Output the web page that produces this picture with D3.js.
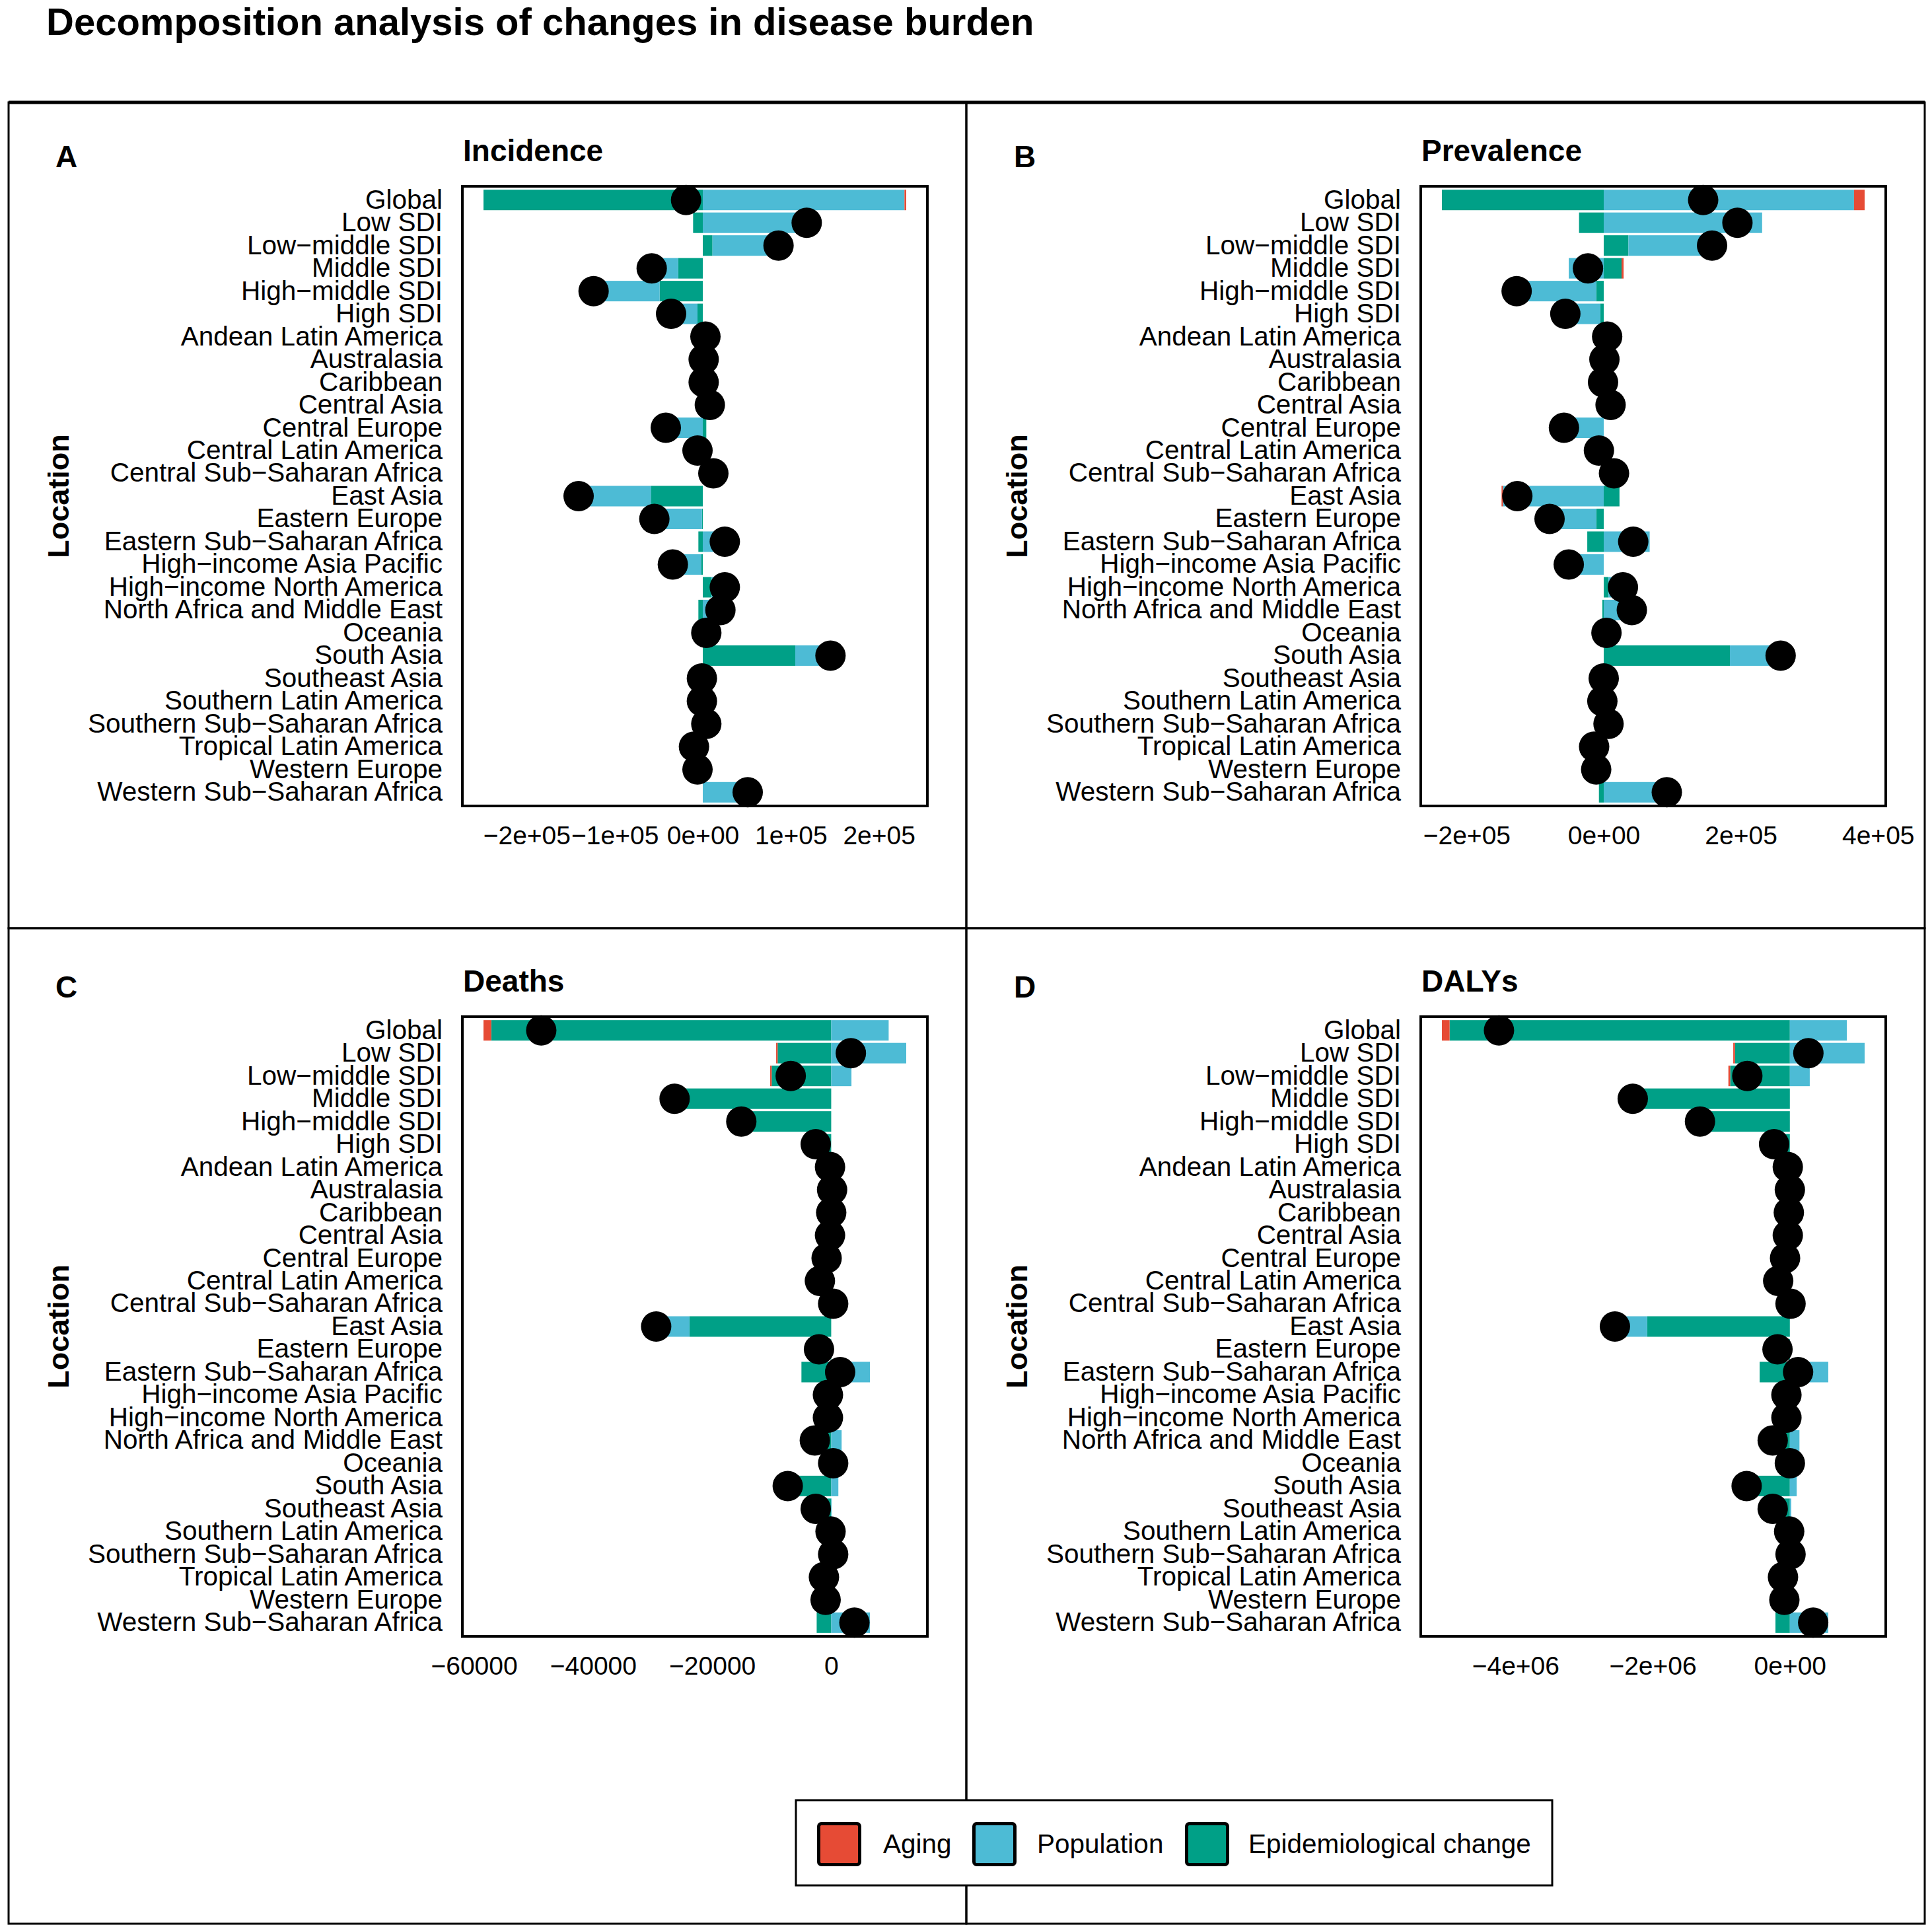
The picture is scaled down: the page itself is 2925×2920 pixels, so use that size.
<!DOCTYPE html>
<html>
<head>
<meta charset="utf-8">
<script src="https://cdn.jsdelivr.net/npm/d3@7"></script>
<style>
  body { margin: 0; background: #fff; }
  svg { display: block; }
  text { font-family: "Liberation Sans", Arial, sans-serif; fill: #000; }
</style>
</head>
<body>
<svg id="chart" width="2925" height="2920"></svg>
<script>
// ---- data ----
const locations = [
    "Global", "Low SDI", "Low−middle SDI", "Middle SDI", "High−middle SDI", "High SDI",
    "Andean Latin America", "Australasia", "Caribbean", "Central Asia", "Central Europe",
    "Central Latin America", "Central Sub−Saharan Africa", "East Asia", "Eastern Europe",
    "Eastern Sub−Saharan Africa", "High−income Asia Pacific", "High−income North America",
    "North Africa and Middle East", "Oceania", "South Asia", "Southeast Asia",
    "Southern Latin America", "Southern Sub−Saharan Africa", "Tropical Latin America",
    "Western Europe", "Western Sub−Saharan Africa"
];
const components = ["Aging", "Population", "Epidemiological change"];

// Incidence
const incidenceEpi = [-249000, -11000, 11000, -28000, -49000, -6000, 0, 0, 0, 2000, 4000, -3000, 3000,
    -59000, -1000, -5000, -2000, 10000, -5000, 0, 105000, -2000, 0, 0, -5000, -2000, 0];
const incidencePop = [229000, 129000, 75000, -30000, -75000, -30000, 3000, 1000, 1000, 6000, -46000, -3000, 9000,
    -82000, -54000, 30000, -32000, 15000, 25000, 4000, 40000, 1000, -1000, 4000, -5000, -4000, 51000];
const incidenceAging = [2000, 0, 0, 0, 0, 0, 0, 0, 0, 0, 0, 0, 0,
    0, 0, 0, 0, 0, 0, 0, 0, 0, 0, 0, 0, 0, 0];
const incidenceTotal = [-19000, 118000, 86000, -58000, -124000, -36000, 3000, 1000, 1000, 8000, -42000, -6000, 12000,
    -141000, -55000, 25000, -34000, 25000, 20000, 4000, 145000, -1000, -1000, 4000, -10000, -6000, 51000];
const incidenceTicks = [-200000, -100000, 0, 100000, 200000];

// Prevalence
const prevalenceEpi = [-236000, -36000, 36000, 26000, -11000, -5000, 1000, 0, 0, 3000, 0, -4000, 4000,
    23000, -11000, -24000, 0, 7000, -2000, 0, 184000, -2000, 0, 1000, -7000, -4000, -7000];
const prevalencePop = [365000, 231000, 122000, -51000, -116000, -51000, 4000, 1000, -1000, 7000, -58000, -3000, 11000,
    -147000, -68000, 67000, -51000, 21000, 43000, 4000, 74000, 2000, -2000, 6000, -7000, -7000, 99000];
const prevalenceAging = [15500, 0, 0, 3000, 0, 0, 0, 0, 0, 0, 0, 0, 0,
    -2000, 0, 0, 0, 0, 0, 0, 0, 0, 0, 0, 0, 0, 0];
const prevalenceTotal = [145000, 195000, 158000, -23000, -127000, -56000, 5000, 1000, -1000, 10000, -58000, -7000, 15000,
    -126000, -79000, 43000, -51000, 28000, 41000, 4000, 258000, 0, -2000, 7000, -14000, -11000, 92000];
const prevalenceTicks = [-200000, 0, 200000, 400000];

// Deaths
const deathsEpi = [-57100, -9000, -10000, -26000, -15100, -2400, -100, 0, -50, -150, -600, -1500, -100,
    -23800, -1500, -5000, -300, -400, -4500, -50, -8500, -2700, -50, -300, -900, -600, -2440];
const deathsPop = [9650, 12600, 3400, -300, 0, -200, -100, 150, 50, -50, -170, -400, 430,
    -5600, -550, 6500, -250, -150, 1750, 380, 1200, 100, -60, 630, -320, -340, 6500];
const deathsAging = [-1300, -250, -250, 0, 0, 0, 0, 0, 0, 0, 0, 0, 0,
    0, 0, 0, 0, 0, 0, 0, 0, 0, 0, 0, 0, 0, 0];
const deathsTotal = [-48700, 3300, -6800, -26300, -15100, -2600, -200, 150, 0, -200, -770, -1900, 330,
    -29400, -2050, 1500, -550, -550, -2750, 330, -7300, -2600, -110, 330, -1220, -940, 3900];
const deathsTicks = [-60000, -40000, -20000, 0];

// DALYs
const dalysEpi = [-4960000, -800000, -870000, -2290000, -1310000, -210000, -20000, -10000, -20000, -30000, -60000, -140000, -20000,
    -2080000, -140000, -440000, -30000, -40000, -390000, -20000, -730000, -270000, -5000, -30000, -70000, -50000, -210000];
const dalysPop = [830000, 1090000, 290000, 0, 0, -20000, -10000, 10000, 5000, 0, -10000, -30000, 30000,
    -470000, -40000, 560000, -20000, -10000, 140000, 20000, 100000, 20000, -5000, 40000, -30000, -30000, 560000];
const dalysAging = [-112000, -25000, -26000, 0, 0, 0, 0, 0, 0, 0, 0, 0, 0,
    0, 0, 0, 0, 0, 0, 0, 0, 0, 0, 0, 0, 0, 0];
const dalysTotal = [-4240000, 270000, -620000, -2290000, -1310000, -230000, -30000, 0, -15000, -30000, -70000, -170000, 10000,
    -2550000, -180000, 120000, -50000, -50000, -250000, 0, -630000, -250000, -10000, 10000, -100000, -80000, 340000];
const dalysTicks = [-4000000, -2000000, 0];

// ---- styling ----
const colorOf = { aging: "#E64B35", pop: "#4DBBD5", epi: "#00A087" };
const legendColors = [colorOf.aging, colorOf.pop, colorOf.epi];

const svg = d3.select("#chart");

// panel geometry, relative to panel A
const plotLeft = 700, plotRight = 1404, plotTop = 282, plotBottom = 1220;
const dotR = 23;

function sciFormat(v) {
    if (v === 0) return "0e+00";
    const e = Math.floor(Math.log10(Math.abs(v)));
    const m = Math.round(Math.abs(v) / Math.pow(10, e));
    return (v < 0 ? "−" : "") + m + "e+" + String(e).padStart(2, "0");
}

const panels = [
    { tag: "A", title: "Incidence", epi: incidenceEpi, pop: incidencePop, aging: incidenceAging,
      total: incidenceTotal, ticks: incidenceTicks, fmt: sciFormat, dx: 0, dy: 0 },
    { tag: "B", title: "Prevalence", epi: prevalenceEpi, pop: prevalencePop, aging: prevalenceAging,
      total: prevalenceTotal, ticks: prevalenceTicks, fmt: sciFormat, dx: 1451, dy: 0 },
    { tag: "C", title: "Deaths", epi: deathsEpi, pop: deathsPop, aging: deathsAging,
      total: deathsTotal, ticks: deathsTicks, fmt: d3.format("d"), dx: 0, dy: 1257 },
    { tag: "D", title: "DALYs", epi: dalysEpi, pop: dalysPop, aging: dalysAging,
      total: dalysTotal, ticks: dalysTicks, fmt: sciFormat, dx: 1451, dy: 1257 }
];

// outer frames
const frames = [[13, 155, 1450, 1250], [1463, 155, 1451, 1250], [13, 1405, 1450, 1507], [1463, 1405, 1451, 1507]];
svg.append("g").selectAll("rect").data(frames).enter().append("rect")
    .attr("x", d => d[0]).attr("y", d => d[1])
    .attr("width", d => d[2]).attr("height", d => d[3])
    .attr("fill", "none").attr("stroke", "#000").attr("stroke-width", 3);
svg.append("line").attr("x1", 13).attr("x2", 2914).attr("y1", 155).attr("y2", 155)
    .attr("stroke", "#000").attr("stroke-width", 5);

// main title
svg.append("text")
    .attr("x", 70).attr("y", 53)
    .style("font-size", "58px").style("font-weight", "bold")
    .text("Decomposition analysis of changes in disease burden");

function drawPanel(p) {
    const g = svg.append("g").attr("transform", `translate(${p.dx},${p.dy})`);

    const rows = locations.map((loc, i) => ({
        location: loc, epi: p.epi[i], pop: p.pop[i], aging: p.aging[i], total: p.total[i]
    }));

    // stack: epidemiological change nearest zero, then population, then aging
    const series = d3.stack()
        .keys(["epi", "pop", "aging"])
        .offset(d3.stackOffsetDiverging)(rows);

    const lo = Math.min(d3.min(series, s => d3.min(s, d => d[0])), d3.min(rows, d => d.total));
    const hi = Math.max(d3.max(series, s => d3.max(s, d => d[1])), d3.max(rows, d => d.total));
    const pad = (hi - lo) * 0.05;

    const x = d3.scaleLinear().domain([lo - pad, hi + pad]).range([plotLeft, plotRight]);
    const y = d3.scaleBand().domain(locations).range([plotTop, plotBottom])
        .paddingInner(0.1).paddingOuter(0.15);

    // bars
    g.append("g").selectAll("g")
        .data(series)
        .enter()
        .append("g")
        .attr("fill", s => colorOf[s.key])
        .selectAll("rect")
        .data(s => s)
        .enter()
        .append("rect")
        .attr("x", d => x(Math.min(d[0], d[1])))
        .attr("width", d => Math.abs(x(d[1]) - x(d[0])))
        .attr("y", d => y(d.data.location))
        .attr("height", y.bandwidth());

    // total change points
    g.append("g").selectAll("circle")
        .data(rows)
        .enter()
        .append("circle")
        .attr("cx", d => x(d.total))
        .attr("cy", d => y(d.location) + y.bandwidth() / 2)
        .attr("r", dotR)
        .attr("fill", "#000");

    // panel border
    g.append("rect")
        .attr("x", plotLeft).attr("y", plotTop)
        .attr("width", plotRight - plotLeft).attr("height", plotBottom - plotTop)
        .attr("fill", "none").attr("stroke", "#000").attr("stroke-width", 4);

    // x axis
    const xAxis = g.append("g")
        .attr("transform", `translate(0,${plotBottom})`)
        .call(d3.axisBottom(x).tickValues(p.ticks).tickFormat(p.fmt).tickSize(0).tickPadding(30));
    xAxis.select(".domain").remove();
    xAxis.selectAll("text")
        .style("font-size", "39px")
        .style("font-family", "'Liberation Sans', Arial, sans-serif")
        .attr("fill", "#000");

    // y axis
    const yAxis = g.append("g")
        .attr("transform", `translate(${plotLeft},0)`)
        .call(d3.axisLeft(y).tickSize(0).tickPadding(30));
    yAxis.select(".domain").remove();
    yAxis.selectAll("text")
        .style("font-size", "40.5px")
        .style("font-family", "'Liberation Sans', Arial, sans-serif")
        .attr("fill", "#000");

    // axis title
    g.append("text")
        .attr("transform", `translate(88,${(plotTop + plotBottom) / 2}) rotate(-90)`)
        .attr("text-anchor", "middle")
        .attr("dominant-baseline", "central")
        .style("font-size", "45px").style("font-weight", "bold")
        .text("Location");

    // panel title and tag
    g.append("text")
        .attr("x", plotLeft + 1).attr("y", 244)
        .style("font-size", "46px").style("font-weight", "bold")
        .text(p.title);
    g.append("text")
        .attr("x", 84).attr("y", 253)
        .style("font-size", "46px").style("font-weight", "bold")
        .text(p.tag);
}

panels.forEach(drawPanel);

// legend
const legend = svg.append("g");
legend.append("rect")
    .attr("x", 1205).attr("y", 2725).attr("width", 1145).attr("height", 129)
    .attr("fill", "#fff").attr("stroke", "#000").attr("stroke-width", 3);

const keyX = [1237, 1472, 1794];
const labelX = [1337, 1570, 1890];
const item = legend.selectAll("g.item")
    .data(components)
    .enter()
    .append("g")
    .attr("class", "item");
item.append("rect")
    .attr("x", (d, i) => keyX[i] + 2.5).attr("y", 2760.5)
    .attr("width", 62).attr("height", 62).attr("rx", 4)
    .attr("fill", (d, i) => legendColors[i])
    .attr("stroke", "#000").attr("stroke-width", 5);
item.append("text")
    .attr("x", (d, i) => labelX[i]).attr("y", 2791)
    .attr("dominant-baseline", "central")
    .style("font-size", "40.5px")
    .text(d => d);
</script>
</body>
</html>
